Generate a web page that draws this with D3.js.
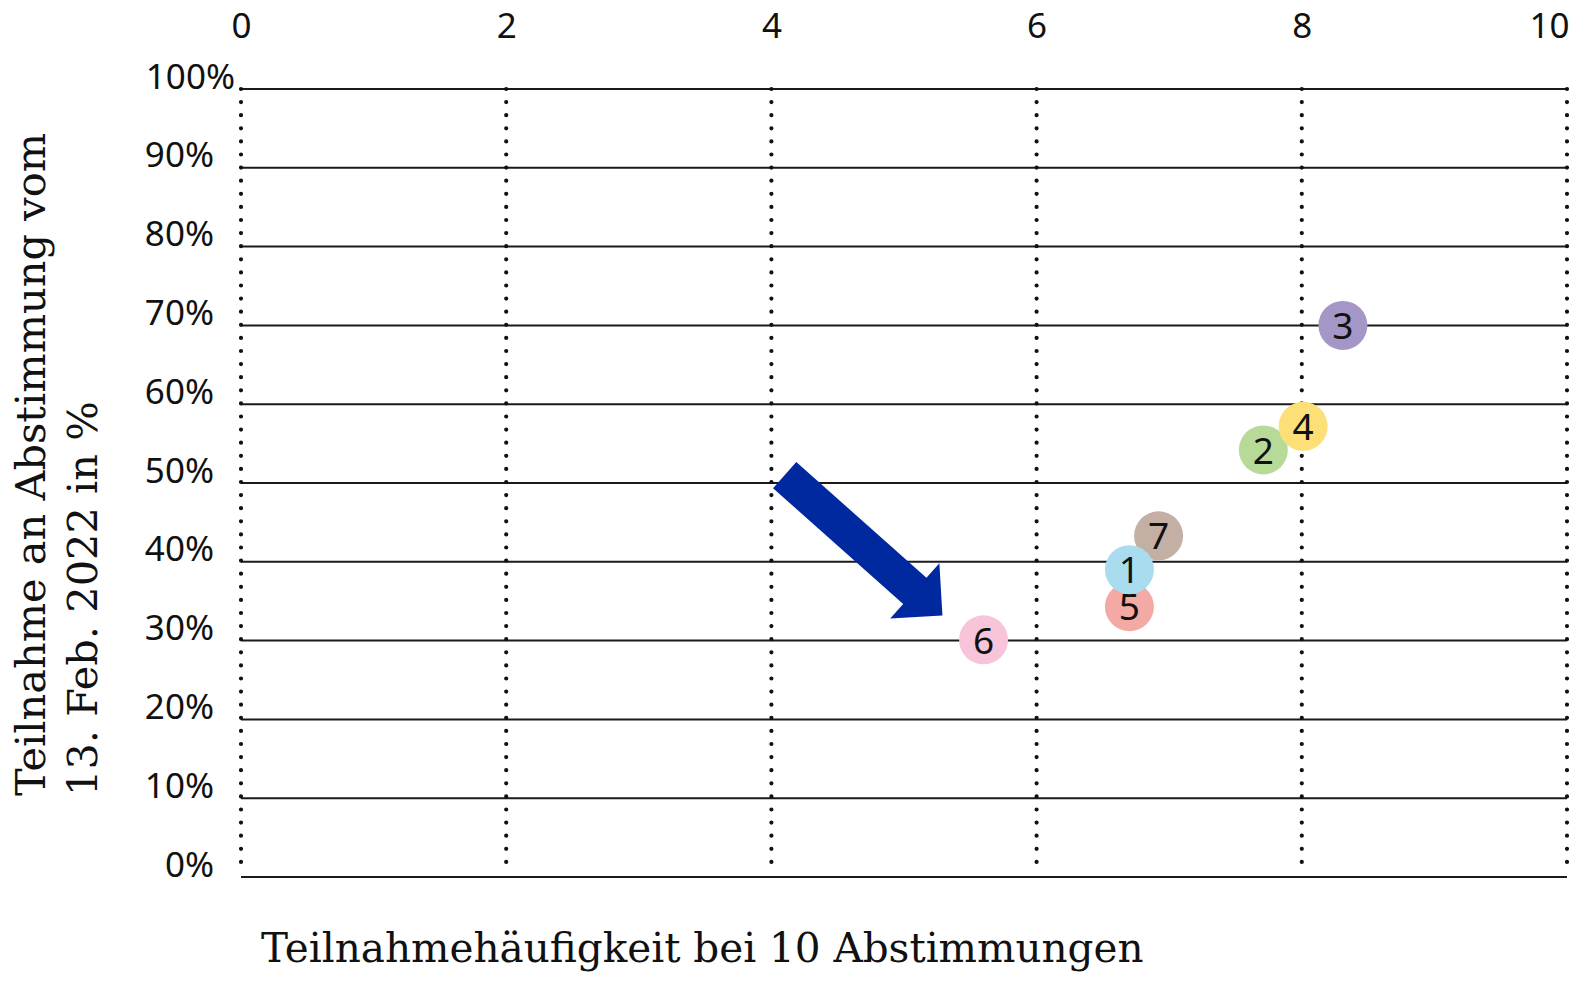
<!DOCTYPE html>
<html>
<head>
<meta charset="utf-8">
<script src="https://cdn.jsdelivr.net/npm/d3@7"></script>
<style>
  body { margin: 0; background: #fff; }
  svg { display: block; }
</style>
</head>
<body>
<script>
// data
var labels = ["1", "2", "3", "4", "5", "6", "7"]
var freq = [6.70, 7.71, 8.31, 8.01, 6.70, 5.60, 6.92]      // Teilnahmehäufigkeit (0-10)
var share = [39.0, 54.2, 70.0, 57.2, 34.3, 30.1, 43.3]     // Teilnahme in %
var colors = ["#a8dcee", "#b8da98", "#a596c8", "#fddf78", "#f4aaa4", "#f7c4d9", "#c4afa5"]
var drawOrder = ["6", "3", "2", "4", "5", "7", "1"]
var xTicks = [0, 2, 4, 6, 8, 10]
var yTicks = [0, 10, 20, 30, 40, 50, 60, 70, 80, 90, 100]
var arrowFrom = [4.10, 51.0]
var arrowTo = [5.29, 33.2]

var points = labels.map((d, i) => ({label: d, x: freq[i], y: share[i], color: colors[i]}))
points.sort((a, b) => drawOrder.indexOf(a.label) - drawOrder.indexOf(b.label))

var svgWidth = 1575
var svgHeight = 981

var svg = d3.select("body")
    .append("svg")
    .attr("width", svgWidth)
    .attr("height", svgHeight)

var x = d3.scaleLinear().domain([0, 10]).range([241, 1567])
var y = d3.scaleLinear().domain([0, 100]).range([877, 89])

var sans = "'Noto Sans', 'Open Sans', sans-serif"
var serif = "'DejaVu Serif', serif"

// horizontal grid lines
svg.append("g")
    .selectAll("line")
    .data(yTicks)
    .enter()
    .append("line")
    .attr("x1", x(0))
    .attr("x2", x(10))
    .attr("y1", d => y(d))
    .attr("y2", d => y(d))
    .attr("stroke", "#1a1a1a")
    .attr("stroke-width", 2)

// dotted vertical lines
svg.append("g")
    .selectAll("line")
    .data(xTicks)
    .enter()
    .append("line")
    .attr("x1", d => x(d))
    .attr("x2", d => x(d))
    .attr("y1", y(100))
    .attr("y2", y(1))
    .attr("stroke", "#111")
    .attr("stroke-width", 4.2)
    .attr("stroke-linecap", "round")
    .attr("stroke-dasharray", "0 13.1")

// x axis on top
var xAxis = d3.axisTop(x).tickValues(xTicks).tickSize(0).tickPadding(0)
var gx = svg.append("g")
    .attr("transform", "translate(0,38)")
    .call(xAxis)
gx.select(".domain").remove()
gx.selectAll("text")
    .attr("font-family", sans)
    .attr("font-size", 35)
    .attr("fill", "#111")
    .attr("text-anchor", d => d == 10 ? "end" : "middle")
    .attr("dx", d => d == 10 ? 2 : 0)

// y axis labels
var yAxis = d3.axisLeft(y).tickValues(yTicks).tickSize(0).tickPadding(0).tickFormat(d => d + "%")
var gy = svg.append("g")
    .attr("transform", "translate(214,0)")
    .call(yAxis)
gy.select(".domain").remove()
gy.selectAll("text")
    .attr("font-family", sans)
    .attr("font-size", 35)
    .attr("fill", "#111")
    .attr("dy", 0)
    .attr("y", -1)
    .attr("dx", d => d == 100 ? 21 : 0)

// arrow
var p0 = [x(arrowFrom[0]), y(arrowFrom[1])]
var p1 = [x(arrowTo[0]), y(arrowTo[1])]
var dx = p1[0] - p0[0], dy = p1[1] - p0[1]
var len = Math.sqrt(dx * dx + dy * dy)
var ux = dx / len, uy = dy / len
var nx = -uy, ny = ux
var shaftW = 17.5, headW = 37, headL = 37
var base = [p1[0] - ux * headL, p1[1] - uy * headL]
var arrowPts = [
    [p0[0] + nx * shaftW, p0[1] + ny * shaftW],
    [base[0] + nx * shaftW, base[1] + ny * shaftW],
    [base[0] + nx * headW, base[1] + ny * headW],
    p1,
    [base[0] - nx * headW, base[1] - ny * headW],
    [base[0] - nx * shaftW, base[1] - ny * shaftW],
    [p0[0] - nx * shaftW, p0[1] - ny * shaftW]
]
svg.append("polygon")
    .attr("points", arrowPts.map(p => p.join(",")).join(" "))
    .attr("fill", "#0029a0")

// points
var pt = svg.append("g")
    .selectAll("g")
    .data(points)
    .enter()
    .append("g")
    .attr("transform", d => "translate(" + x(d.x) + "," + y(d.y) + ")")
pt.append("circle")
    .attr("r", 24.5)
    .attr("fill", d => d.color)
pt.append("text")
    .attr("text-anchor", "middle")
    .attr("dy", "0.37em")
    .attr("font-family", sans)
    .attr("font-size", 37)
    .attr("fill", "#111")
    .text(d => d.label)

// axis titles
svg.append("text")
    .attr("x", 261)
    .attr("y", 962)
    .attr("font-family", serif)
    .attr("font-size", 40.5)
    .attr("fill", "#111")
    .text("Teilnahmehäufigkeit bei 10 Abstimmungen")

var yt = svg.append("text")
    .attr("transform", "translate(0,796) rotate(-90)")
    .attr("font-family", serif)
    .attr("font-size", 41.5)
    .attr("fill", "#111")
yt.append("tspan").attr("x", 0).attr("y", 45).text("Teilnahme an Abstimmung vom")
yt.append("tspan").attr("x", 0).attr("y", 97).text("13. Feb. 2022 in %")
</script>
</body>
</html>
